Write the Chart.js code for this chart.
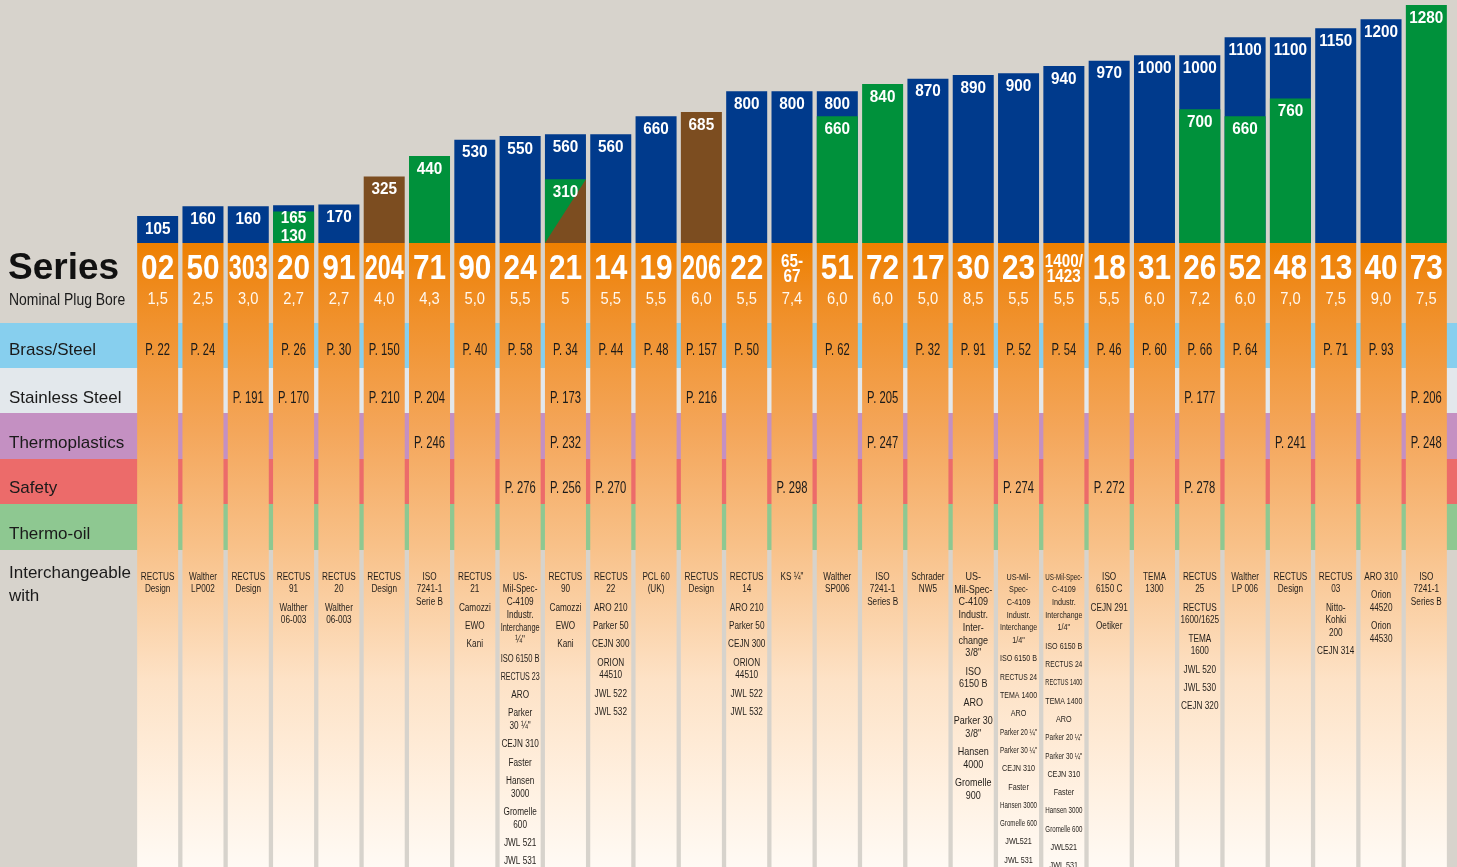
<!DOCTYPE html>
<html>
<head>
<meta charset="utf-8">
<title>Series overview</title>
<script src="https://cdn.jsdelivr.net/npm/chart.js@4.4.1/dist/chart.umd.min.js"></script>
<style>
  html, body { margin: 0; padding: 0; background: #d7d3cc; }
  canvas { display: block; }
</style>
</head>
<body>
<canvas id="chart" width="1457" height="867"></canvas>
<script>
// --- data ---
const series = ['02', '50', '303', '20', '91', '204', '71', '90', '24', '21', '14', '19', '206', '22', '65-67',
  '51', '72', '17', '30', '23', '1400/1423', '18', '31', '26', '52', '48', '13', '40', '73'];
const plugBore = ['1,5', '2,5', '3,0', '2,7', '2,7', '4,0', '4,3', '5,0', '5,5', '5', '5,5', '5,5', '6,0', '5,5', '7,4',
  '6,0', '6,0', '5,0', '8,5', '5,5', '5,5', '5,5', '6,0', '7,2', '6,0', '7,0', '7,5', '9,0', '7,5'];

// flow values, top bar and inner bar
const flowTop = [105, 160, 160, 165, 170, 325, 440, 530, 550, 560, 560, 660, 685, 800, 800,
  800, 840, 870, 890, 900, 940, 970, 1000, 1000, 1100, 1100, 1150, 1200, 1280];
const topKind = ['b', 'b', 'b', 'b', 'b', 'r', 'g', 'b', 'b', 'b', 'b', 'b', 'r', 'b', 'b',
  'b', 'g', 'b', 'b', 'b', 'b', 'b', 'b', 'b', 'b', 'b', 'b', 'b', 'g'];
const flowInner = [null, null, null, 130, null, null, null, null, null, 310, null, null, null, null, null,
  660, null, null, null, null, null, null, null, 700, 660, 760, null, null, null];
const innerKind = [null, null, null, 'g', null, null, null, null, null, 'gr', null, null, null, null, null,
  'g', null, null, null, null, null, null, null, 'g', 'g', 'g', null, null, null];

// page references per material row
const rowNames = ['Brass/Steel', 'Stainless Steel', 'Thermoplastics', 'Safety', 'Thermo-oil'];
const brassSteel = ['22', '24', '', '26', '30', '150', '', '40', '58', '34', '44', '48', '157', '50', '',
  '62', '', '32', '91', '52', '54', '46', '60', '66', '64', '', '71', '93', ''];
const stainless = ['', '', '191', '170', '', '210', '204', '', '', '173', '', '', '216', '', '',
  '', '205', '', '', '', '', '', '', '177', '', '', '', '', '206'];
const thermoplastics = ['', '', '', '', '', '', '246', '', '', '232', '', '', '', '', '',
  '', '247', '', '', '', '', '', '', '', '', '241', '', '', '248'];
const safety = ['', '', '', '', '', '', '', '', '276', '256', '270', '', '', '', '298',
  '', '', '', '', '274', '', '272', '', '278', '', '', '', '', ''];
const thermoOil = ['', '', '', '', '', '', '', '', '', '', '', '', '', '', '',
  '', '', '', '', '', '', '', '', '', '', '', '', '', ''];
const rowPages = [brassSteel, stainless, thermoplastics, safety, thermoOil];

// interchangeable with
const interchange = [
  ['RECTUS\nDesign'],
  ['Walther\nLP002'],
  ['RECTUS\nDesign'],
  ['RECTUS\n91', 'Walther\n06-003'],
  ['RECTUS\n20', 'Walther\n06-003'],
  ['RECTUS\nDesign'],
  ['ISO\n7241-1\nSerie B'],
  ['RECTUS\n21', 'Camozzi', 'EWO', 'Kani'],
  ['US-\nMil-Spec-\nC-4109\nIndustr.\nInterchange\n¼"', 'ISO 6150 B', 'RECTUS 23', 'ARO', 'Parker\n30 ¼"',
    'CEJN 310', 'Faster', 'Hansen\n3000', 'Gromelle\n600', 'JWL 521', 'JWL 531'],
  ['RECTUS\n90', 'Camozzi', 'EWO', 'Kani'],
  ['RECTUS\n22', 'ARO 210', 'Parker 50', 'CEJN 300', 'ORION\n44510', 'JWL 522', 'JWL 532'],
  ['PCL 60\n(UK)'],
  ['RECTUS\nDesign'],
  ['RECTUS\n14', 'ARO 210', 'Parker 50', 'CEJN 300', 'ORION\n44510', 'JWL 522', 'JWL 532'],
  ['KS ¼"'],
  ['Walther\nSP006'],
  ['ISO\n7241-1\nSeries B'],
  ['Schrader\nNW5'],
  ['US-\nMil-Spec-\nC-4109\nIndustr.\nInter-\nchange\n3/8"', 'ISO\n6150 B', 'ARO', 'Parker 30\n3/8"',
    'Hansen\n4000', 'Gromelle\n900'],
  ['US-Mil-\nSpec-\nC-4109\nIndustr.\nInterchange\n1/4"', 'ISO 6150 B', 'RECTUS 24', 'TEMA 1400', 'ARO',
    'Parker 20 ¼"', 'Parker 30 ¼"', 'CEJN 310', 'Faster', 'Hansen 3000', 'Gromelle 600', 'JWL521', 'JWL 531'],
  ['US-Mil-Spec-\nC-4109\nIndustr.\nInterchange\n1/4"', 'ISO 6150 B', 'RECTUS 24', 'RECTUS 1400', 'TEMA 1400',
    'ARO', 'Parker 20 ¼"', 'Parker 30 ¼"', 'CEJN 310', 'Faster', 'Hansen 3000', 'Gromelle 600', 'JWL521', 'JWL 531'],
  ['ISO\n6150 C', 'CEJN 291', 'Oetiker'],
  ['TEMA\n1300'],
  ['RECTUS\n25', 'RECTUS\n1600/1625', 'TEMA\n1600', 'JWL 520', 'JWL 530', 'CEJN 320'],
  ['Walther\nLP 006'],
  ['RECTUS\nDesign'],
  ['RECTUS\n03', 'Nitto-\nKohki\n200', 'CEJN 314'],
  ['ARO 310', 'Orion\n44520', 'Orion\n44530'],
  ['ISO\n7241-1\nSeries B']
];

// --- styles ---
const SANS = '"Liberation Sans", Arial, Helvetica, sans-serif';
const colours = { b: '#003a8c', g: '#00913b', r: '#7c4d20' };
const grey = '#d7d3cc';
const rowBands = [
  { top: 323, bottom: 368, colour: '#87cfee', y: 350 },
  { top: 368, bottom: 413, colour: '#e3e8ec', y: 398 },
  { top: 413, bottom: 459, colour: '#c490c2', y: 443 },
  { top: 459, bottom: 504, colour: '#ec6b6a', y: 488 },
  { top: 504, bottom: 550, colour: '#8ec891', y: 534 }
];
const interSize = { 18: 11, 19: 9.5, 20: 9.5 };

// texte compressé horizontalement (effet "condensed")
const put = (ctx, s, x, y, font, colour, sx = 1, maxW, align = 'center') => {
  ctx.save();
  ctx.font = font;
  ctx.fillStyle = colour;
  ctx.textAlign = align;
  ctx.textBaseline = 'middle';
  ctx.translate(x, y);
  ctx.scale(sx, 1);
  if (maxW) ctx.fillText(s, 0, 0, maxW / sx); else ctx.fillText(s, 0, 0);
  ctx.restore();
};

const table = {
  id: 'table',
  beforeDraw(chart) {
    const ctx = chart.ctx;
    const W = chart.width, H = chart.height;
    const top = chart.chartArea.bottom;
    ctx.save();
    ctx.fillStyle = grey;
    ctx.fillRect(0, 0, W, H);
    rowBands.forEach(r => {
      ctx.fillStyle = r.colour;
      ctx.fillRect(0, r.top, W, r.bottom - r.top);
    });
    const grad = ctx.createLinearGradient(0, top, 0, H);
    grad.addColorStop(0, '#ee8000');
    grad.addColorStop(0.07, '#ef8a1c');
    grad.addColorStop(0.13, '#f0922e');
    grad.addColorStop(0.3, '#f4a65a');
    grad.addColorStop(0.48, '#f8c087');
    grad.addColorStop(0.7, '#fde2c6');
    grad.addColorStop(0.88, '#fff1e2');
    grad.addColorStop(1, '#fffaf4');
    ctx.fillStyle = grad;
    chart.getDatasetMeta(1).data.forEach(bar => {
      ctx.fillRect(bar.x - bar.width / 2, top, bar.width, H - top);
    });
    ctx.restore();
  },
  afterDatasetsDraw(chart) {
    const ctx = chart.ctx;
    const inner = chart.getDatasetMeta(0).data;
    const outer = chart.getDatasetMeta(1).data;
    // demi-barre marron en diagonale
    inner.forEach((bar, i) => {
      if (innerKind[i] !== 'gr') return;
      const l = bar.x - bar.width / 2, r = bar.x + bar.width / 2;
      ctx.save();
      ctx.fillStyle = colours.r;
      ctx.beginPath();
      ctx.moveTo(l, bar.base);
      ctx.lineTo(r, bar.y);
      ctx.lineTo(r, bar.base);
      ctx.closePath();
      ctx.fill();
      ctx.restore();
    });
    const font = 'bold 17px ' + SANS;
    outer.forEach((bar, i) => {
      const yTop = bar.y + 13;
      put(ctx, String(flowTop[i]), bar.x, yTop, font, '#fff', 0.9, 39);
      if (flowInner[i] != null) {
        const yIn = Math.max(inner[i].y + 13, yTop + 18);
        put(ctx, String(flowInner[i]), bar.x, yIn, font, '#fff', 0.9, 39);
      }
    });
  },
  afterDraw(chart) {
    const ctx = chart.ctx;
    const bars = chart.getDatasetMeta(1).data;
    // libellés à gauche
    put(ctx, 'Series', 8, 269, 'bold 37px ' + SANS, '#111', 1, null, 'left');
    put(ctx, 'Nominal Plug Bore', 9, 300, '17px ' + SANS, '#1a1a1a', 0.82, null, 'left');
    rowNames.forEach((n, k) => put(ctx, n, 9, rowBands[k].y, '17px ' + SANS, '#1a1a1a', 1, null, 'left'));
    put(ctx, 'Interchangeable', 9, 573, '17px ' + SANS, '#1a1a1a', 1, null, 'left');
    put(ctx, 'with', 9, 596, '17px ' + SANS, '#1a1a1a', 1, null, 'left');

    bars.forEach((bar, i) => {
      const x = bar.x;
      const s = series[i];
      if (/[-/]/.test(s)) {
        const parts = s.replace(/([-/])/, '$1\n').split('\n');
        put(ctx, parts[0], x, 262, 'bold 18px ' + SANS, '#fff', 0.85, 38);
        put(ctx, parts[1], x, 277, 'bold 18px ' + SANS, '#fff', 0.85, 38);
      } else {
        put(ctx, s, x, 269, 'bold 35px ' + SANS, '#fff', 0.85, 39);
      }
      put(ctx, plugBore[i], x, 300, '16px ' + SANS, '#fff8ee', 0.92, 40);

      rowPages.forEach((pages, k) => {
        if (pages[i]) put(ctx, 'P. ' + pages[i], x, rowBands[k].y, '16.5px ' + SANS, '#1a1a1a', 0.68, 39);
      });

      const size = interSize[i] || 10;
      let y = 577;
      interchange[i].forEach(item => {
        item.split('\n').forEach(line => {
          put(ctx, line, x, y, size + 'px ' + SANS, '#221e1a', size < 10 ? 0.76 : 0.82, size < 10 ? 37 : 39);
          y += 12.7;
        });
        y += 5.6;
      });
    });
  }
};

const ctx = document.getElementById('chart');
new Chart(ctx, {
  type: 'bar',
  data: {
    labels: series,
    datasets: [
      {
        label: 'inner',
        data: flowInner,
        backgroundColor: flowInner.map(() => colours.g),
        grouped: false,
        order: 0
      },
      {
        label: 'top',
        data: flowTop,
        backgroundColor: topKind.map(k => colours[k]),
        grouped: false,
        order: 1
      }
    ]
  },
  options: {
    responsive: false,
    animation: false,
    devicePixelRatio: 1,
    layout: { padding: { left: 135, right: 8, top: 5, bottom: 624 } },
    datasets: { bar: { barPercentage: 0.905, categoryPercentage: 1, base: -45, borderWidth: 0 } },
    plugins: { legend: { display: false }, tooltip: { enabled: false } },
    scales: {
      x: { display: false },
      y: { display: false, min: -45, max: 1280 }
    }
  },
  plugins: [table]
});
</script>
</body>
</html>
